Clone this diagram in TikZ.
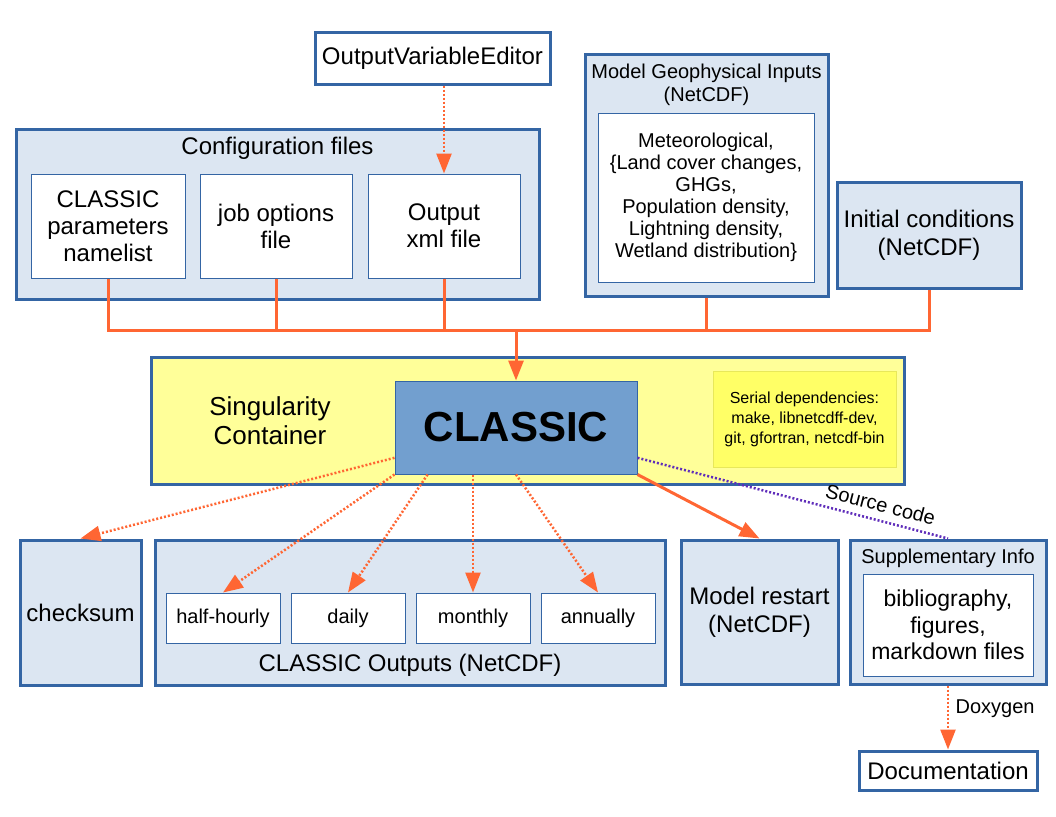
\documentclass[tikz,border=0pt]{standalone}
\usepackage{fontspec}
\setmainfont{Liberation Sans}
\usepackage{tikz}
\usetikzlibrary{arrows.meta}

\definecolor{boxblue}{HTML}{3465A4}
\definecolor{paleblue}{HTML}{DCE6F2}
\definecolor{coreblue}{HTML}{729FCF}
\definecolor{lineorange}{HTML}{FF6633}
\definecolor{paleyellow}{HTML}{FFFF99}
\definecolor{depyellow}{HTML}{FFFF66}
\definecolor{depborder}{HTML}{E8E85A}
\definecolor{srcpurple}{HTML}{5F2DBA}

\newcommand{\fs}[2]{\fontsize{#1}{#2}\selectfont}

\begin{document}
\begin{tikzpicture}[x=1pt,y=1pt]
  \tikzstyle{outer} = [draw=boxblue, line width=3pt, fill=paleblue, inner sep=0pt]
  \tikzstyle{inner} = [draw=boxblue, line width=1pt, fill=white, align=center, inner sep=0pt]
  \tikzstyle{lbl} = [align=center, inner sep=0pt]
  \tikzstyle{conn} = [draw=lineorange, line width=3pt]
  \tikzstyle{dots} = [draw=lineorange, line width=2.5pt, dash pattern=on 2pt off 2pt]
  \tikzstyle{tip} = [-{Triangle[length=20pt,width=15pt]}]
  \useasboundingbox (0,0) rectangle (1056,-816);

  % top row
  \node[outer, fill=white, minimum width=235, minimum height=51, font=\fs{24}{28}](ove) at (432.5,-58.5){OutputVariableEditor};

  \node[outer, minimum width=523, minimum height=170](cfg) at (277.5,-214){};
  \node[lbl, font=\fs{24}{28}](cfgtitle) at (277.5,-148){Configuration files};
  \node[inner, minimum width=154, minimum height=104, font=\fs{24}{27}](par) at (108,-226){CLASSIC\\parameters\\namelist};
  \node[inner, minimum width=152, minimum height=104, font=\fs{24}{27}](job) at (276,-226){job options\\file};
  \node[inner, minimum width=152, minimum height=104, font=\fs{24}{27}](xml) at (444,-226){Output\\xml file};

  \node[outer, minimum width=243, minimum height=241](geo) at (706.5,-175.5){};
  \node[lbl, font=\fs{20}{23}](geotitle) at (706.5,-84.5){Model Geophysical Inputs\\(NetCDF)};
  \node[inner, minimum width=216, minimum height=169, font=\fs{20}{22}](geoin) at (706,-197.5){Meteorological,\\\{Land cover changes,\\GHGs,\\Population density,\\Lightning density,\\Wetland distribution\}};

  \node[outer, minimum width=184, minimum height=106, align=center, font=\fs{24}{28}](init) at (929,-235){Initial conditions\\(NetCDF)};

  % container
  \node[outer, fill=paleyellow, minimum width=753, minimum height=127](sing) at (527.5,-420.5){};
  \node[lbl, font=\fs{26}{29}](singtext) at (270,-421){Singularity\\Container};
  \node[draw=boxblue, line width=1pt, fill=coreblue, minimum width=242, minimum height=93, font=\fs{42}{46}\bfseries](classic) at (516,-427.5){CLASSIC};
  \node[draw=depborder, line width=1pt, fill=depyellow, minimum width=183, minimum height=96, align=center, inner sep=0pt, font=\fs{16}{20}](serial) at (804.5,-419){Serial dependencies:\\make, libnetcdff-dev,\\git, gfortran, netcdf-bin};

  % bottom row
  \node[outer, minimum width=121, minimum height=145, font=\fs{24}{28}](chk) at (80.5,-612.5){checksum};

  \node[outer, minimum width=510, minimum height=145](outs) at (410,-612.5){};
  \node[lbl, font=\fs{24}{28}](outstitle) at (410,-665){CLASSIC Outputs (NetCDF)};
  \node[inner, minimum width=114, minimum height=50, font=\fs{20}{24}](hh) at (223,-618){half-hourly};
  \node[inner, minimum width=114, minimum height=50, font=\fs{20}{24}](daily) at (348,-618){daily};
  \node[inner, minimum width=114, minimum height=50, font=\fs{20}{24}](monthly) at (473,-618){monthly};
  \node[inner, minimum width=114, minimum height=50, font=\fs{20}{24}](annually) at (598,-618){annually};

  \node[outer, minimum width=157, minimum height=144, align=center, font=\fs{24}{28}](rst) at (759.5,-612){Model restart\\(NetCDF)};

  \node[outer, minimum width=196, minimum height=144](sup) at (948,-612){};
  \node[lbl, font=\fs{20}{24}](suptitle) at (948,-558){Supplementary Info};
  \node[inner, minimum width=170, minimum height=102, font=\fs{23}{26.5}](supin) at (948,-625){bibliography,\\figures,\\markdown files};

  \node[outer, fill=white, minimum width=178, minimum height=39, font=\fs{24}{28}](doc) at (948,-770.5){Documentation};

  % inputs into CLASSIC
  \coordinate (bus) at (516,-330);
  \draw[conn] (par.south) |- (bus) -| (init.south);
  \draw[conn] (job.south) -- (job.south |- bus);
  \draw[conn] (xml.south) -- (xml.south |- bus);
  \draw[conn] (geo.south) -- (geo.south |- bus);
  \draw[conn, tip] (bus) -- (classic.north);
  \draw[dots, tip] (ove.south -| xml.north) -- (xml.north);

  % outputs of CLASSIC
  \draw[dots, tip] (classic.194) -- (chk.north);
  \draw[dots, tip] (classic.south west) -- (hh.north);
  \draw[dots, tip] (classic.208) -- (daily.north);
  \draw[dots, tip] (monthly.north |- classic.south) -- (monthly.north);
  \draw[dots, tip] (classic.south) -- (annually.north);
  \draw[conn, tip] (classic.south east) -- (rst.north);
  \draw[draw=srcpurple, line width=2.5pt, dash pattern=on 2pt off 2pt] (classic.346) -- node[pos=0.77, above=4pt, sloped, font=\fs{20}{24}]{Source code} (sup.north);
  \draw[dots, tip] (sup.south) -- node[right=3pt, font=\fs{20}{24}, yshift=9pt]{Doxygen} (doc.north);
\end{tikzpicture}
\end{document}
